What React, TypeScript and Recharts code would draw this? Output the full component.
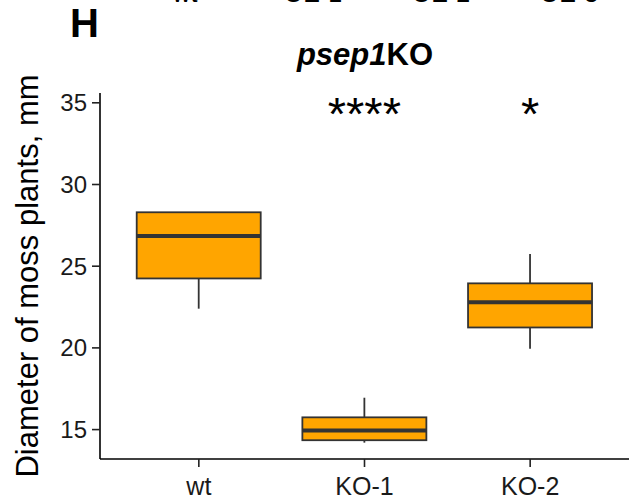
import React from "react";
import { ComposedChart, Bar, XAxis, YAxis } from "recharts";

// box plot stats (mm)
const groups = ["wt", "KO-1", "KO-2"];
const whiskerLow = [22.4, 14.2, 19.95];
const q1 = [24.25, 14.35, 21.25];
const median = [26.85, 14.95, 22.8];
const q3 = [28.3, 15.75, 23.95];
const whiskerHigh = [28.3, 16.95, 25.75];
const signif = ["", "****", "*"];

const yTicks = [15, 20, 25, 30, 35];
// labels of the panel above, cut off by the crop
const topLabels = ["wt", "OE-1", "OE-2", "OE-3"];

const data = groups.map((g, i) => ({
  group: g,
  min: whiskerLow[i],
  q1: q1[i],
  median: median[i],
  q3: q3[i],
  max: whiskerHigh[i],
  signif: signif[i],
}));

const FONT = "'Liberation Sans', Arial, sans-serif";
const FILL = "#FFA500";
const EDGE = "#333333";
const STAR_Y = 35.2;

function BoxShape(props: any) {
  const { x, y, width, height, payload } = props;
  const top = Math.min(y, y + height);
  const h = Math.abs(height);
  const span = payload.max - payload.min;
  // map a value to pixels using the bar the library laid out
  const py = (v: number) =>
    span > 0 ? top + ((payload.max - v) / span) * h : top;
  const cx = x + width / 2;
  return (
    <g>
      <line x1={cx} x2={cx} y1={py(payload.max)} y2={py(payload.q3)} stroke={EDGE} strokeWidth={1.8} />
      <line x1={cx} x2={cx} y1={py(payload.q1)} y2={py(payload.min)} stroke={EDGE} strokeWidth={1.8} />
      <rect
        x={x}
        y={py(payload.q3)}
        width={width}
        height={py(payload.q1) - py(payload.q3)}
        fill={FILL}
        stroke={EDGE}
        strokeWidth={1.8}
      />
      <line x1={x} x2={x + width} y1={py(payload.median)} y2={py(payload.median)} stroke={EDGE} strokeWidth={4} />
      {payload.signif ? (
        <text
          x={cx}
          y={py(STAR_Y) + 30}
          textAnchor="middle"
          fontSize={47}
          fontFamily={FONT}
          fill="#000"
        >
          {payload.signif}
        </text>
      ) : null}
    </g>
  );
}

export default function App() {
  return (
    <div
      style={{
        position: "absolute",
        left: 0,
        top: 0,
        width: 633,
        height: 502,
        background: "#fff",
        overflow: "hidden",
        fontFamily: FONT,
      }}
    >
      {topLabels.map((t, i) => (
        <div
          key={t}
          style={{
            position: "absolute",
            top: -21,
            left: 185 + i * 128 - 50,
            width: 100,
            textAlign: "center",
            fontSize: 25,
            color: "#000",
          }}
        >
          {t}
        </div>
      ))}
      <div
        style={{
          position: "absolute",
          left: 70,
          top: 1,
          fontSize: 40,
          fontWeight: "bold",
          color: "#000",
        }}
      >
        H
      </div>
      <div
        style={{
          position: "absolute",
          left: 101,
          width: 528,
          top: 37,
          textAlign: "center",
          fontSize: 31,
          fontWeight: "bold",
          color: "#000",
        }}
      >
        <span style={{ fontStyle: "italic" }}>psep1</span>KO
      </div>
      <ComposedChart
        width={633}
        height={502}
        data={data}
        margin={{ top: 93, right: 4, bottom: 13, left: 40 }}
        barCategoryGap="12.5%"
      >
        <XAxis
          dataKey="group"
          padding={{ left: 16, right: 16 }}
          height={30}
          tick={{ fontSize: 25, fill: "#1a1a1a", fontFamily: FONT }}
          tickSize={8}
          tickMargin={10}
          axisLine={{ stroke: "#000", strokeWidth: 1.6 }}
          tickLine={{ stroke: "#222", strokeWidth: 1.6 }}
        />
        <YAxis
          type="number"
          domain={[13.2, 35.6]}
          ticks={yTicks}
          allowDataOverflow
          width={60}
          tick={{ fontSize: 24, fill: "#1a1a1a", fontFamily: FONT }}
          tickSize={8}
          tickMargin={5}
          axisLine={{ stroke: "#000", strokeWidth: 1.6 }}
          tickLine={{ stroke: "#222", strokeWidth: 1.6 }}
          label={{
            value: "Diameter of moss plants, mm",
            angle: -90,
            position: "left",
            offset: 13,
            style: { fontSize: 31, fill: "#000", fontFamily: FONT, textAnchor: "middle" },
          }}
        />
        <Bar
          dataKey={(d: any) => [d.min, d.max]}
          shape={<BoxShape />}
          isAnimationActive={false}
        />
      </ComposedChart>
    </div>
  );
}
